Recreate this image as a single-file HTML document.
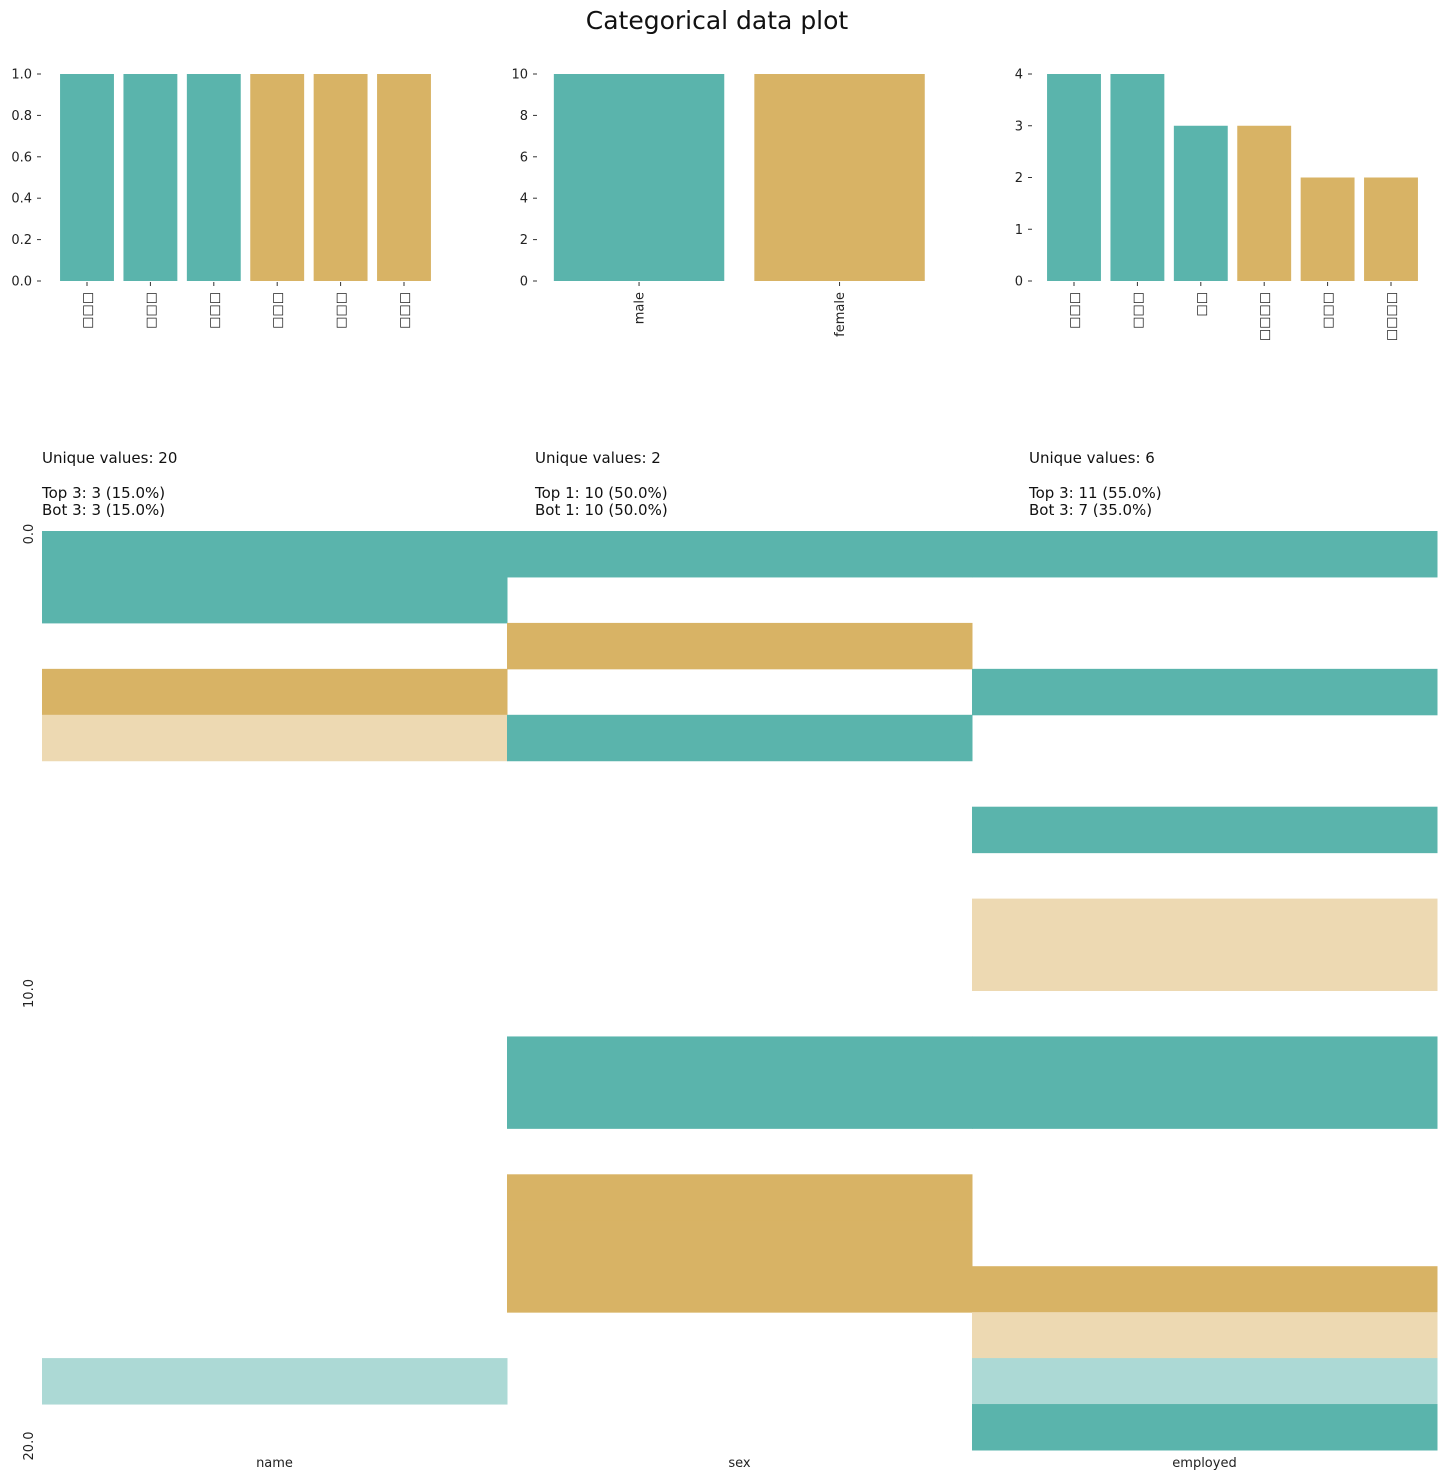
<!DOCTYPE html>
<html><head><meta charset="utf-8"><style>
body{margin:0;background:#fff}
svg{display:block;font-family:"DejaVu Sans","Liberation Sans",sans-serif}
</style></head><body>
<svg id="c" width="1446" height="1480" xmlns="http://www.w3.org/2000/svg">
<text x="717" y="29" font-size="25" text-anchor="middle" fill="#111">Categorical data plot</text>
</svg>
<script>
const TEAL='#5ab4ac', GOLD='#d8b365', LGOLD='#edd9b2', LTEAL='#acd9d5';
// bar chart data
const nameCats=['□□□','□□□','□□□','□□□','□□□','□□□'];
const nameVals=[1,1,1,1,1,1];
const nameTicks=[0,0.2,0.4,0.6,0.8,1.0];
const sexCats=['male','female'];
const sexVals=[10,10];
const sexTicks=[0,2,4,6,8,10];
const empCats=['□□□','□□□','□□','□□□□','□□□','□□□□'];
const empVals=[4,4,3,3,2,2];
const empTicks=[0,1,2,3,4];
// heatmap data: 0 white,1 teal,2 gold,3 light gold,4 light teal
const hmCols=['name','sex','employed'];
const hmName=[1,1,0,2,3,0,0,0,0,0,0,0,0,0,0,0,0,0,4,0];
const hmSex=[1,0,2,0,1,0,0,0,0,0,0,1,1,0,2,2,2,0,0,0];
const hmEmp=[1,0,0,1,0,0,1,0,3,3,0,1,1,0,0,0,2,3,4,1];
const hmYTicks=[0,10,20];
const notes=[['Unique values: 20','Top 3: 3 (15.0%)','Bot 3: 3 (15.0%)'],['Unique values: 2','Top 1: 10 (50.0%)','Bot 1: 10 (50.0%)'],['Unique values: 6','Top 3: 11 (55.0%)','Bot 3: 7 (35.0%)']];

const svg=document.getElementById('c');
const NS='http://www.w3.org/2000/svg';
function mk(t,a,txt){const e=document.createElementNS(NS,t);for(const k in a)e.setAttribute(k,a[k]);if(txt!==undefined)e.textContent=txt;svg.appendChild(e);return e;}

function barChart(x0,x1,axX,cats,vals,ticks,fmt,tag){
  const yTop=74,yBot=281,max=ticks[ticks.length-1];
  const ys=v=>yBot-(v/max)*(yBot-yTop);
  const n=cats.length,step=(x1-x0)/n,w=step*0.85;
  ticks.forEach(t=>{
    const y=ys(t);
    const l=mk('line',{x1:axX-5,x2:axX-1,y1:y,y2:y,stroke:'#333'});
    
    
    const tx=mk('text',{x:axX-10,y:y+4.5,'font-size':13,'text-anchor':'end',fill:'#222'},fmt(t));
    
    
  });
  cats.forEach((c,i)=>{
    const cx=x0+step*(i+0.5);
    const half=Math.floor(n/2);
    const r=mk('rect',{x:cx-w/2,y:ys(vals[i]),width:w,height:yBot-ys(vals[i]),fill:i<half?TEAL:GOLD});
    
    
    const l=mk('line',{x1:cx,x2:cx,y1:yBot+1,y2:yBot+5,stroke:'#333'});
    
    
    const tx=mk('text',{x:0,y:0,'font-size':13,'text-anchor':'end',fill:'#222',transform:`translate(${cx+4.5},${yBot+11}) rotate(-90)`},c);
    
    
  });
}
barChart(55.3,435.7,42,nameCats,nameVals,nameTicks,v=>v.toFixed(1),'name-bars');
barChart(538.8,939.8,538,sexCats,sexVals,sexTicks,v=>String(v),'sex-bars');
barChart(1042.3,1422.7,1033,empCats,empVals,empTicks,v=>String(v),'employed-bars');

// notes
const nx=[42,535,1029];
notes.forEach((n,i)=>{
  [[n[0],463],[n[1],498],[n[2],515]].forEach(([t,y])=>{
    const e=mk('text',{x:nx[i],y:y,'font-size':15,fill:'#111'},t);
    
    
  });
});

// heatmap
const HX0=42,HX1=1437,HY0=531,HY1=1450,rows=20;
const colW=(HX1-HX0)/3,rowH=(HY1-HY0)/rows;
const colorMap=['#ffffff',TEAL,GOLD,LGOLD,LTEAL];
[hmName,hmSex,hmEmp].forEach((col,ci)=>{
  col.forEach((v,ri)=>{
    if(!v)return;
    const r=mk('rect',{x:HX0+ci*colW,y:HY0+ri*rowH,width:colW+0.5,height:rowH+0.5,fill:colorMap[v]});
    
    
  });
  const cx=HX0+colW*(ci+0.5);
  const t=mk('text',{x:cx,y:1467,'font-size':13,'text-anchor':'middle',fill:'#222'},hmCols[ci]);
  
  
});
hmYTicks.forEach(v=>{
  const y=HY0+v*rowH;
  const t=mk('text',{x:0,y:0,'font-size':13,'text-anchor':'middle',fill:'#222',transform:`translate(33,${y+(v===0?3:v===20?-4:3)}) rotate(-90)`},v.toFixed(1));
  
  
});
</script>
</body></html>
